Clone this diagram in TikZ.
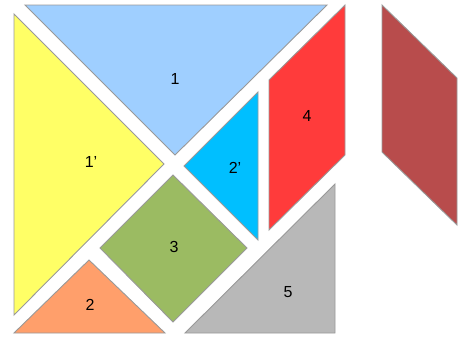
\documentclass[tikz,border=0pt]{standalone}
\usepackage{fontspec}
\setmainfont{Liberation Sans}
\usepackage{tikz}

\definecolor{piecea}{HTML}{9FCFFF}
\definecolor{pieceb}{HTML}{FFFF66}
\definecolor{piecec}{HTML}{00BFFF}
\definecolor{pieced}{HTML}{FF3B3B}
\definecolor{piecee}{HTML}{B84C4C}
\definecolor{piecef}{HTML}{9BBB62}
\definecolor{pieceg}{HTML}{FF9F6B}
\definecolor{pieceh}{HTML}{B8B8B8}

\tikzset{
    piece/.style={draw=gray!80, line width=0.9pt, line join=miter},
    num/.style={font=\fontsize{16}{18}\selectfont, text=black}
}

\begin{document}
\begin{tikzpicture}[x=1pt, y=-1pt]
    \useasboundingbox (0,0) rectangle (461,338);

    % Big triangles
    \draw[piece, fill=piecea] (25,5) -- (327,5) -- (175,155) -- cycle;
    \draw[piece, fill=pieceb] (14,14) -- (164,164) -- (14,315) -- cycle;

    % Small triangles
    \draw[piece, fill=piecec] (258,92) -- (258,240) -- (184,166) -- cycle;
    \draw[piece, fill=pieceg] (89,260) -- (165,333) -- (14,333) -- cycle;

    % Middle triangle
    \draw[piece, fill=pieceh] (335,184) -- (335,333) -- (185,333) -- cycle;

    % Square
    \draw[piece, fill=piecef] (173,175) -- (247,248) -- (173,322) -- (100,248) -- cycle;

    % Parallelograms
    \draw[piece, fill=pieced] (269,80) -- (345,5) -- (345,155) -- (269,230) -- cycle;
    \draw[piece, fill=piecee] (382,5) -- (457,78) -- (457,225) -- (382,152) -- cycle;

    % Labels
    \node[num] (one)   at (175,79)  {1};
    \node[num] (onep)  at (91,162)  {1'};
    \node[num] (twop)  at (235,168) {2'};
    \node[num] (four)  at (307,116) {4};
    \node[num] (three) at (174,247) {3};
    \node[num] (two)   at (90,305)  {2};
    \node[num] (five)  at (288,292) {5};
\end{tikzpicture}
\end{document}
